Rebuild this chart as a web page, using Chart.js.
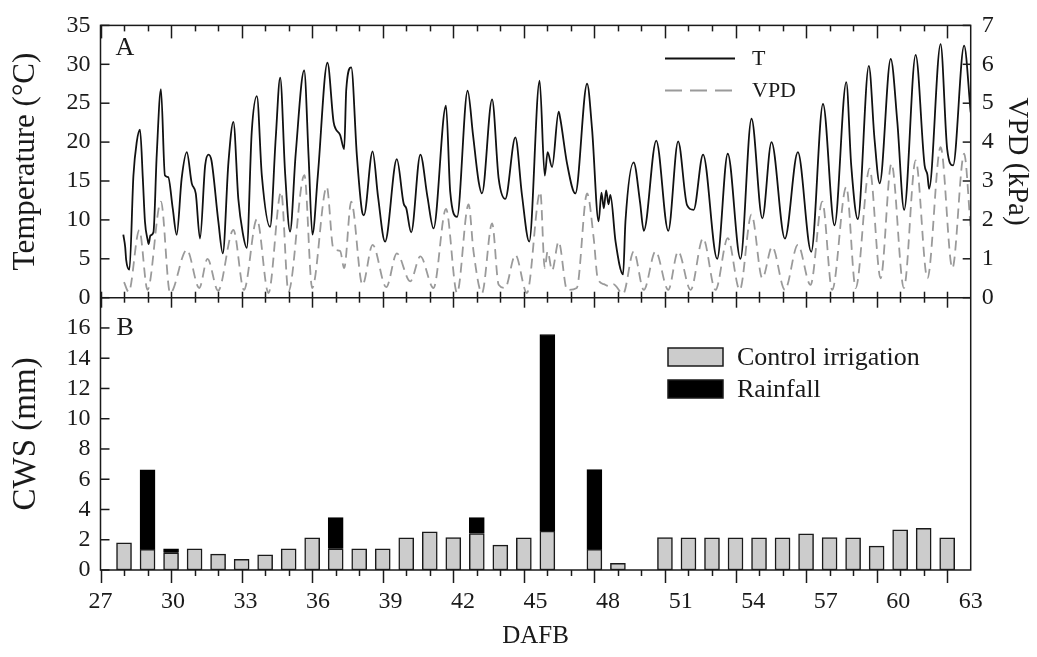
<!DOCTYPE html>
<html><head><meta charset="utf-8">
<script src="https://cdn.jsdelivr.net/npm/chart.js@4.4.1/dist/chart.umd.min.js"></script>
<style>html,body{margin:0;padding:0;background:#fff;}#wrap{position:relative;width:1037px;height:657px;}</style>
</head><body><div id="wrap"><canvas id="c" width="1037" height="657"></canvas></div>
<script>
// ---- Panel A: air temperature (°C) through the days after full bloom
const tempDay = [27.97,28.05,28.09,28.23,28.4,28.54,28.68,28.8,28.89,29.0,29.05,29.12,29.25,29.39,29.57,29.74,29.88,30.07,30.24,30.45,30.67,30.88,31.05,31.23,31.45,31.59,31.72,32.01,32.2,32.44,32.65,32.86,33.05,33.22,33.43,33.65,33.86,34.21,34.45,34.64,34.85,35.06,35.3,35.66,35.85,36.01,36.24,36.65,36.91,37.0,37.19,37.36,37.45,37.66,37.9,38.11,38.2,38.57,38.8,39.1,39.6,39.89,40.0,40.21,40.6,40.9,41.16,41.69,41.87,42.16,42.61,42.84,43.08,43.22,43.65,43.93,44.21,44.64,44.92,45.23,45.67,45.89,46.01,46.2,46.48,46.55,46.84,47.19,47.69,47.9,48.18,48.3,48.4,48.5,48.6,48.68,48.9,49.22,49.32,49.67,49.94,50.1,50.63,51.14,51.56,51.94,52.22,52.62,53.22,53.67,54.21,54.68,55.14,55.53,56.1,56.65,57.22,57.72,58.21,58.71,58.92,59.2,59.67,59.91,60.13,60.6,60.88,61.17,61.66,62.04,62.16,62.23,62.72,63.0,63.25,63.72,64.0];
const tempVal = [8.1,6.5,4.9,3.6,15.7,20.0,21.6,15.3,9.8,7.5,6.9,8.0,8.4,18.3,26.8,15.7,15.5,11.5,8.1,15.3,18.7,14.7,13.4,7.6,17.0,18.4,17.6,9.8,5.7,17.4,22.6,12.7,8.3,6.4,21.3,25.9,15.7,9.1,20.5,28.3,16.0,8.5,18.5,29.2,18.0,8.1,15.7,30.2,22.6,21.7,20.9,19.1,26.8,29.6,18.3,11.3,10.6,18.8,13.0,7.2,17.8,12.1,11.5,8.4,18.4,13.0,8.9,24.7,13.6,10.4,26.6,20.9,14.9,13.4,25.5,15.3,12.7,20.6,13.2,7.2,27.9,15.7,18.7,16.8,23.9,23.0,17.2,13.4,27.5,21.7,9.8,13.5,11.5,13.8,12.0,13.2,7.2,3.0,9.8,17.4,12.3,8.6,20.2,8.6,20.1,11.9,11.3,18.4,5.0,18.5,5.0,23.0,10.2,20.0,7.6,18.7,5.9,24.9,9.3,27.7,17.0,10.1,29.8,20.4,14.7,30.7,22.6,11.3,31.2,17.0,15.8,14.0,32.6,19.1,17.0,32.4,23.8];
// ---- Panel A: vapour pressure deficit (kPa)
const vpdDay = [28.0,28.2,28.65,29.0,29.57,29.96,30.67,31.2,31.55,32.0,32.65,33.1,33.65,34.14,34.68,34.99,35.67,36.0,36.62,36.9,37.19,37.36,37.66,38.14,38.57,39.15,39.6,40.17,40.6,41.16,41.69,42.16,42.65,42.86,43.22,43.65,43.93,44.2,44.64,45.13,45.7,45.89,46.01,46.2,46.48,46.84,47.25,47.69,47.97,48.14,48.4,48.6,48.8,49.22,49.67,50.1,50.6,51.14,51.56,52.09,52.62,53.15,53.67,54.18,54.68,55.14,55.56,56.1,56.65,57.19,57.69,58.11,58.71,59.11,59.7,60.17,60.63,61.16,61.66,62.16,62.72,63.22,63.72,64.0];
const vpdVal = [0.4,0.15,1.74,0.2,2.47,0.12,1.23,0.25,1.0,0.18,1.74,0.2,2.02,0.12,2.72,0.16,3.15,0.25,2.85,1.27,1.2,0.76,2.47,0.33,1.36,0.27,1.14,0.42,1.06,0.25,2.28,0.12,2.4,1.19,0.12,1.91,0.33,0.25,1.1,0.12,2.72,0.76,1.19,0.7,1.44,0.2,0.25,2.68,1.53,0.5,0.35,0.3,0.35,0.1,1.19,0.2,1.19,0.2,1.19,0.2,1.53,0.2,1.53,0.2,2.14,0.5,1.31,0.2,1.36,0.33,2.47,0.2,2.85,0.25,3.32,0.5,3.45,0.25,3.53,0.5,3.87,0.76,3.7,1.78];
// ---- Panel B: crop water supply (mm)
const cwsDay     = [28,29,30,31,32,33,34,35,36,37,38,39,40,41,42,43,44,45,46,48,49,51,52,53,54,55,56,57,58,59,60,61,62,63];
const irrigation = [1.8,1.36,1.14,1.4,1.05,0.7,1.0,1.4,2.13,1.4,1.4,1.4,2.13,2.52,2.15,2.41,1.64,2.13,2.57,1.36,0.44,2.15,2.13,2.13,2.13,2.13,2.13,2.39,2.15,2.13,1.58,2.65,2.76,2.13];
const rainfall   = [0,5.26,0.26,0,0,0,0,0,0,2.06,0,0,0,0,0,1.05,0,0,13.0,5.28,0,0,0,0,0,0,0,0,0,0,0,0,0,0];
// ---- tick labels
const dafbTicks = [27,30,33,36,39,42,45,48,51,54,57,60,63];
const tempTicks = [0,5,10,15,20,25,30,35];
const vpdTicks  = [0,1,2,3,4,5,6,7];
const cwsTicks  = [0,2,4,6,8,10,12,14,16];

const FF = "'Liberation Serif', 'Times New Roman', serif";
const INK = '#1a1a1a';
const zip = (a, b) => a.map((v, i) => ({x: v, y: b[i]}));

const frame = {
  id: 'frame',
  afterDatasetsDraw(chart) {
    const {ctx, chartArea: a, scales} = chart;
    const x = scales.x, yT = scales.yT, yB = scales.yB, yV = scales.yV;
    const mid = yT.bottom;
    ctx.save();
    ctx.strokeStyle = INK; ctx.lineWidth = 1.5; ctx.lineCap = 'butt';
    const ln = (x1, y1, x2, y2) => { ctx.beginPath(); ctx.moveTo(x1, y1); ctx.lineTo(x2, y2); ctx.stroke(); };
    ctx.strokeRect(a.left, a.top, a.right - a.left, a.bottom - a.top);
    ln(a.left, mid, a.right, mid);
    for (let d = 27; d < 64; d++) {
      const px = Math.round(x.getPixelForValue(d)) + 0.5;
      const major = (d - 27) % 3 === 0;
      ln(px, a.top, px, a.top + (major ? 13 : 6));
      ln(px, mid - 6, px, mid + (major ? 10 : 5));
      ln(px, a.bottom, px, a.bottom + (major ? 13 : 6));
    }
    tempTicks.forEach(v => { const py = yT.getPixelForValue(v); ln(a.left, py, a.left + 9, py); });
    cwsTicks.forEach(v => { const py = yB.getPixelForValue(v); ln(a.left, py, a.left + 9, py); });
    vpdTicks.forEach(v => { const py = yV.getPixelForValue(v); ln(a.right - 8, py, a.right, py); });
    // panel letters
    ctx.fillStyle = INK; ctx.textBaseline = 'alphabetic'; ctx.textAlign = 'left';
    ctx.font = `26px ${FF}`;
    ctx.fillText('A', a.left + 15, a.top + 30);
    ctx.fillText('B', a.left + 16, mid + 37);
    // legend A
    ctx.lineWidth = 1.8;
    ctx.strokeStyle = '#111'; ln(665, 58.5, 735, 58.5);
    ctx.strokeStyle = '#9a9a9a'; ctx.setLineDash([17, 8]); ln(665, 90.5, 735, 90.5); ctx.setLineDash([]);
    ctx.font = `22px ${FF}`; ctx.textBaseline = 'middle';
    ctx.fillText('T', 752, 59);
    ctx.fillText('VPD', 752, 91);
    // legend B
    ctx.lineWidth = 1.5; ctx.strokeStyle = INK;
    ctx.fillStyle = '#cccccc'; ctx.fillRect(668, 348, 55, 18); ctx.strokeRect(668, 348, 55, 18);
    ctx.fillStyle = '#000'; ctx.fillRect(668, 380, 55, 18); ctx.strokeRect(668, 380, 55, 18);
    ctx.fillStyle = INK; ctx.font = `26px ${FF}`;
    ctx.fillText('Control irrigation', 737, 358);
    ctx.fillText('Rainfall', 737, 390);
    ctx.restore();
  }
};

const tickFont = {family: FF, size: 24};
const yTicks = {font: tickFont, color: INK, padding: 10, autoSkip: false};
new Chart(document.getElementById('c'), {
  data: {
    datasets: [
      {type: 'line', label: 'T', data: zip(tempDay, tempVal), xAxisID: 'x', yAxisID: 'yT',
       borderColor: '#111', borderWidth: 1.8, pointRadius: 0, cubicInterpolationMode: 'monotone', order: 1},
      {type: 'line', label: 'VPD', data: zip(vpdDay, vpdVal), xAxisID: 'x', yAxisID: 'yV',
       borderColor: '#9a9a9a', borderWidth: 1.8, borderDash: [10, 6], pointRadius: 0, cubicInterpolationMode: 'monotone', order: 2},
      {type: 'bar', label: 'Control irrigation', data: zip(cwsDay, irrigation), xAxisID: 'x', yAxisID: 'yB', stack: 'cws',
       backgroundColor: '#cccccc', borderColor: INK, borderWidth: 1.5, borderSkipped: false, barThickness: 15, grouped: false, order: 3},
      {type: 'bar', label: 'Rainfall', data: zip(cwsDay, rainfall.map(v => v > 0 ? v : null)), xAxisID: 'x', yAxisID: 'yB', stack: 'cws',
       backgroundColor: '#000', borderColor: '#000', borderWidth: 1, barThickness: 15, grouped: false, order: 4}
    ]
  },
  options: {
    responsive: false, animation: false, devicePixelRatio: 1,
    layout: {padding: {top: 22, left: 0, right: 0, bottom: 0}},
    plugins: {legend: {display: false}, tooltip: {enabled: false}},
    scales: {
      x: {type: 'linear', min: 27, max: 64, display: false, stacked: true, offset: false, grid: {offset: false}},
      xl: {type: 'linear', min: 27, max: 63, position: 'bottom', offset: false,
        afterBuildTicks: s => { s.ticks = dafbTicks.map(v => ({value: v})); },
        afterFit: s => { s.height = 87; },
        grid: {display: false, drawTicks: false}, border: {display: false},
        ticks: {font: tickFont, color: INK, padding: 17, maxRotation: 0, autoSkip: false},
        title: {display: true, text: 'DAFB', font: {family: FF, size: 25}, color: INK, padding: {top: 0, bottom: 6}}},
      yB: {type: 'linear', position: 'left', stack: 'L', stackWeight: 1, min: 0, max: 18, stacked: true,
        afterBuildTicks: s => { s.ticks = cwsTicks.map(v => ({value: v})); },
        afterFit: s => { s.width = 100.5; },
        grid: {display: false, drawTicks: false}, border: {display: false},
        ticks: yTicks,
        title: {display: true, text: 'CWS (mm)', font: {family: FF, size: 33}, color: INK, padding: {top: 7, bottom: 0}}},
      yT: {type: 'linear', position: 'left', stack: 'L', stackWeight: 1, min: 0, max: 35,
        afterBuildTicks: s => { s.ticks = tempTicks.map(v => ({value: v})); },
        afterFit: s => { s.width = 100.5; },
        grid: {display: false, drawTicks: false}, border: {display: false},
        ticks: yTicks,
        title: {display: true, text: 'Temperature (°C)', font: {family: FF, size: 31}, color: INK, padding: {top: 7, bottom: 0}}},
      yV: {type: 'linear', position: 'right', stack: 'R', stackWeight: 1, min: 0, max: 7,
        afterBuildTicks: s => { s.ticks = vpdTicks.map(v => ({value: v})); },
        afterFit: s => { s.width = 66.3; },
        grid: {display: false, drawTicks: false}, border: {display: false},
        ticks: {font: tickFont, color: INK, padding: 11, autoSkip: false},
        title: {display: true, text: 'VPD (kPa)', font: {family: FF, size: 29}, color: INK, padding: {top: 3, bottom: 0}}},
      yR: {type: 'linear', position: 'right', stack: 'R', stackWeight: 1, min: 0, max: 18,
        afterFit: s => { s.width = 66.3; },
        grid: {display: false, drawTicks: false}, border: {display: false},
        ticks: {display: false}}
    }
  },
  plugins: [frame]
});
</script></body></html>
